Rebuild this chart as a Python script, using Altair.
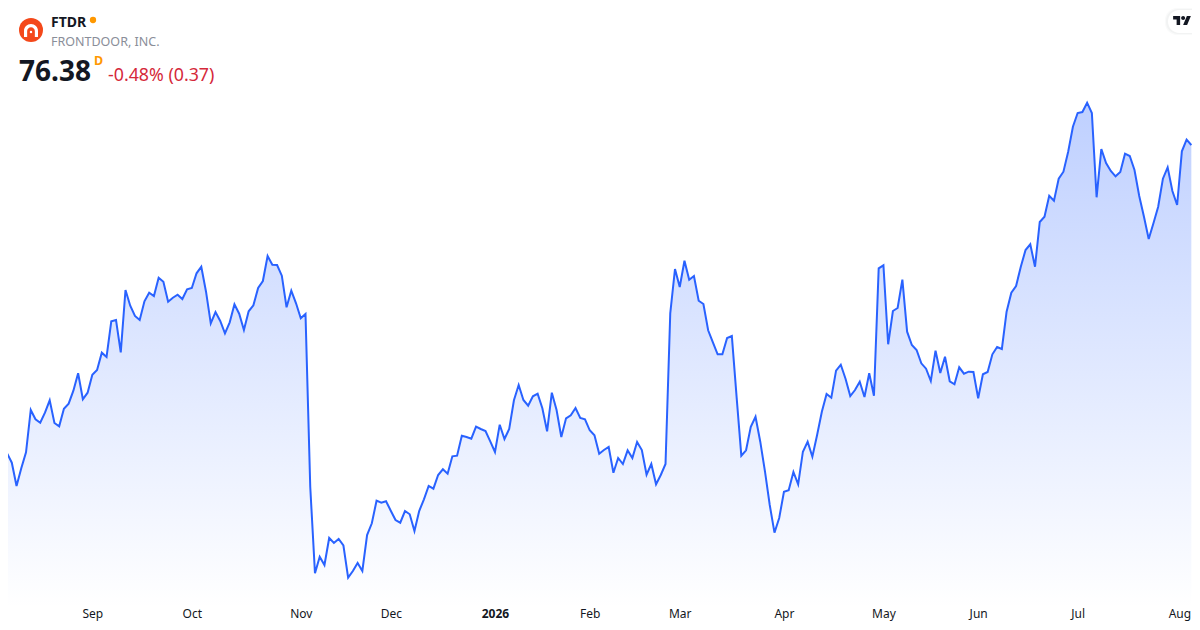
import altair as alt
import pandas as pd

prices = [
44.31,45.55,44.61,42.28,44.05,45.65,49.88,48.95,48.61,49.61,50.85,48.58,48.25,50.01,50.51,51.81,53.55,50.95,51.61,53.41,
53.88,55.61,55.18,58.75,58.88,55.65,61.88,60.31,59.28,58.88,60.75,61.61,61.28,63.11,62.71,60.71,61.11,61.41,60.98,61.95,
62.08,63.55,64.21,61.71,58.55,59.68,58.78,57.55,58.65,60.45,59.51,57.88,59.75,60.35,62.08,62.78,65.28,64.41,64.38,63.31,
60.15,61.81,60.55,59.05,59.48,42.21,33.55,35.21,34.38,37.08,36.58,36.98,36.35,33.11,33.78,34.58,33.78,37.38,38.55,40.81,
40.61,40.75,39.81,38.88,38.61,39.78,39.45,37.78,39.78,40.95,42.28,42.01,43.38,43.95,43.51,45.25,45.31,47.31,47.18,47.01,
48.21,47.98,47.78,46.75,45.68,48.41,46.98,47.98,50.85,52.38,50.88,50.31,51.25,51.51,50.05,47.75,51.61,49.88,47.18,49.05,
49.35,50.08,49.08,48.95,47.85,47.35,45.51,45.88,46.18,43.61,45.08,44.48,45.85,45.08,46.68,45.88,43.41,44.48,42.45,43.38,
44.48,59.55,63.98,62.18,64.81,62.91,63.28,60.81,60.48,57.85,56.65,55.45,55.45,57.08,57.28,51.21,45.31,45.85,48.21,49.21,
46.71,43.71,40.38,37.61,39.08,41.71,41.85,43.68,42.45,45.71,46.71,45.21,47.38,49.71,51.48,51.11,53.81,54.41,53.01,51.28,
51.88,52.71,51.18,53.55,51.31,64.05,64.35,56.45,59.78,60.08,62.91,57.71,56.38,55.88,54.55,54.01,52.78,55.81,53.58,55.21,
52.75,52.45,54.15,53.51,53.71,53.68,51.05,53.45,53.68,55.45,56.18,55.98,59.71,61.61,62.28,64.21,65.88,66.45,64.21,68.68,
69.21,71.31,70.81,73.01,73.71,75.71,78.21,79.58,79.68,80.61,79.58,71.15,75.98,74.58,73.78,73.25,73.68,75.51,75.28,73.88,
71.28,69.21,66.98,68.55,70.21,73.01,74.15,71.78,70.38,75.75,76.91,76.38,
]
tick_idx = [19, 40, 63, 82, 104, 124, 143, 165, 186, 206, 227, 249]
tick_labels = ["Sep", "Oct", "Nov", "Dec", "2026", "Feb", "Mar", "Apr", "May", "Jun", "Jul", "Aug"]

W, H = 1184, 600
df = pd.DataFrame({"i": range(len(prices)), "p": prices})
label_map = "{" + ",".join(f"{i}:'{t}'" for i, t in zip(tick_idx, tick_labels)) + "}"

x_scale = alt.Scale(domain=[1.197, 251.14], nice=False, zero=False)
y_scale = alt.Scale(domain=[30.08, 90.08], nice=False, zero=False)
x_enc = alt.X("i:Q", scale=x_scale, title=None, axis=alt.Axis(
    values=tick_idx, labelExpr=f"({label_map})[datum.value]", grid=False, domain=False, ticks=False,
    labelPadding=0, labelFontSize=12, labelFont="Noto Sans", labelColor="#131722", labelOverlap=False,
    labelFlush=False, labelBound=False,
    labelOffset={"condition": {"test": "datum.value === 249", "value": -2.5}, "value": 0},
    labelFontWeight={"condition": {"test": "datum.value === 104", "value": "bold"}, "value": "normal"},
))
y_enc = alt.Y("p:Q", scale=y_scale, title=None, axis=None)

area = alt.Chart(df).mark_area(
    clip=True,
    color=alt.Gradient(
        gradient="linear", x1=0, x2=0, y1=0, y2=1,
        stops=[alt.GradientStop(color="rgba(41,98,255,0.30)", offset=0),
               alt.GradientStop(color="rgba(41,98,255,0)", offset=1)],
    ),
).encode(x=x_enc, y=y_enc, y2=alt.datum(30.08))
line = alt.Chart(df).mark_line(color="#2962FF", strokeWidth=2, clip=True).encode(x=x_enc, y=y_enc)


def txt(s, px, py, size, color, weight="normal", font="Noto Sans", baseline="middle"):
    return alt.Chart(pd.DataFrame({"t": [s]})).mark_text(
        align="left", baseline=baseline, fontSize=size, font=font, fontWeight=weight, color=color
    ).encode(text="t:N", x=alt.value(px - 8), y=alt.value(py - 8))


def dot(px, py, size, color, shape="circle"):
    return alt.Chart(pd.DataFrame({"a": [0]})).mark_point(
        filled=True, shape=shape, size=size, color=color, opacity=1
    ).encode(x=alt.value(px - 8), y=alt.value(py - 8))


def box(x1, x2, y1, y2, color, opacity=1.0):
    return alt.Chart(pd.DataFrame({"a": [0]})).mark_rect(
        color=color, opacity=opacity, cornerRadiusTopLeft=12, cornerRadiusBottomLeft=12
    ).encode(x=alt.value(x1 - 8), x2=alt.value(x2 - 8), y=alt.value(y1 - 8), y2=alt.value(y2 - 8))


ARCH = "M -1 0.85 L -1 0 A 1 1 0 0 1 1 0 L 1 0.85 L 0.55 0.85 L 0.55 0 A 0.55 0.55 0 0 0 -0.55 0 L -0.55 0.85 Z"
TV = ("M -0.208 0.5 L -0.597 0.5 L -0.597 -0.111 L -0.986 -0.111 L -0.986 -0.5 L -0.208 -0.5 Z "
      "M 0.569 0.5 L 0.125 0.5 L 0.542 -0.5 L 0.986 -0.5 Z "
      "M -0.097 -0.278 A 0.222 0.222 0 1 0 0.347 -0.278 A 0.222 0.222 0 1 0 -0.097 -0.278 Z")

chart = alt.layer(
    area, line,
    dot(31, 30, 576, "#F4481A"),
    dot(31, 31, 196, "#FFFFFF", shape=ARCH),
    dot(31, 32, 6, "#FFFFFF"),
    txt("FTDR", 51, 22.5, 14, "#131722", "bold"),
    dot(93, 20, 40, "#FF9800"),
    txt("FRONTDOOR, INC.", 51, 42, 12.5, "#8A8E99"),
    txt("76.38", 19, 73, 28, "#131722", "bold"),
    txt("D", 94, 61, 12.5, "#FF9800", "bold"),
    txt("-0.48% (0.37)", 108, 76, 17.8, "#D5293A"),
    box(1165, 1192, 8, 35, "#131722", 0.025),
    box(1166, 1192, 9, 34, "#131722", 0.03),
    box(1168, 1192, 10, 33, "#FFFFFF"),
    dot(1182, 20.5, 324, "#131722", shape=TV),
).properties(
    width=W, height=H, padding={"left": 0, "top": 0, "right": 0, "bottom": 14},
    autosize=alt.AutoSizeParams(type="none"), background="#FFFFFF",
).configure_view(stroke=None)

chart.save("out.html", embed_options={"renderer": "svg", "actions": False})
